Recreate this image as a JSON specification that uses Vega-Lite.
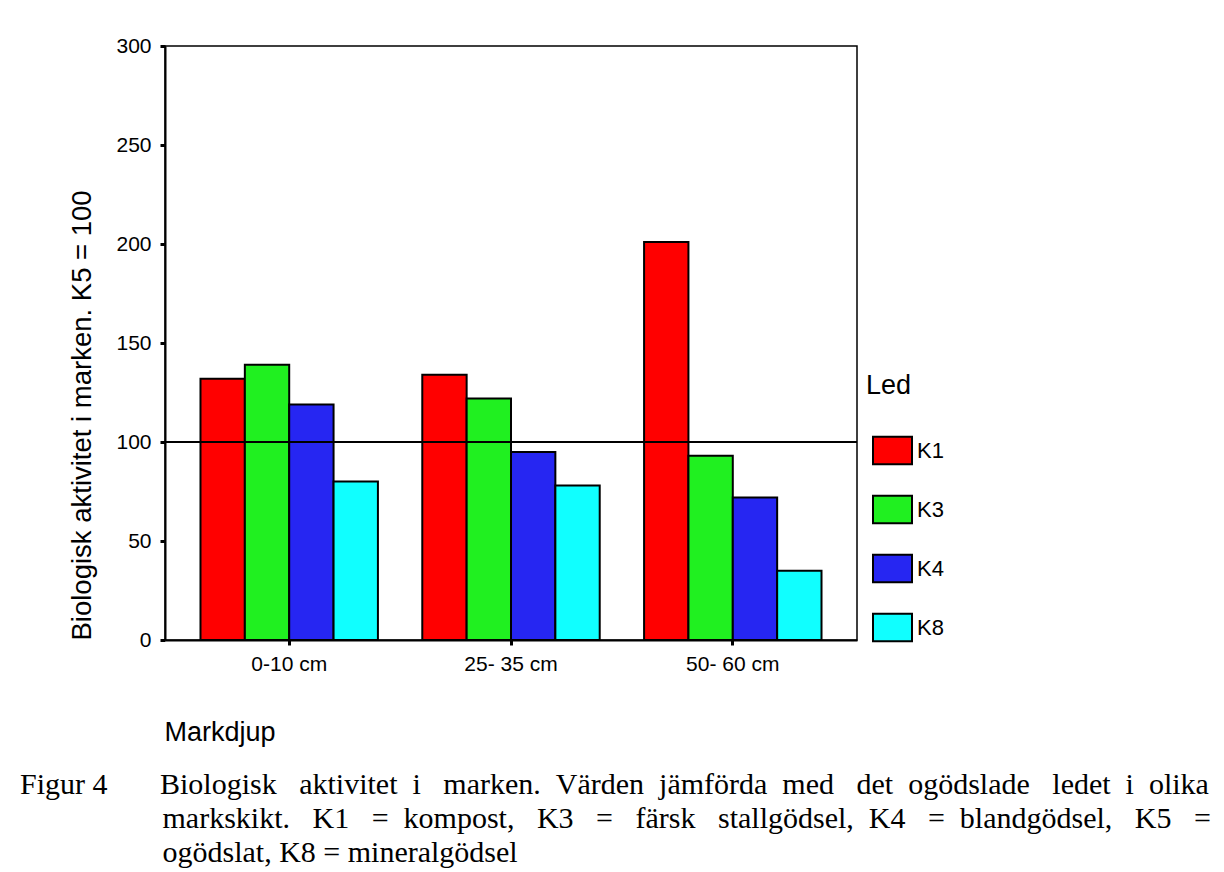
{
  "$schema": "https://vega.github.io/schema/vega-lite/v6.json",
  "width": 692,
  "height": 594,
  "autosize": {"type": "none"},
  "padding": {"left": 165, "top": 46, "right": 367, "bottom": 232},
  "background": "white",
  "config": {
    "view": {"stroke": "black", "strokeWidth": 1.5},
    "font": "Liberation Sans"
  },
  "title": {
    "text": [
      "Figur 4\u00a0\u00a0\u00a0\u00a0\u00a0\u00a0\u00a0Biologisk \u00a0\u00a0aktivitet \u00a0i \u00a0\u00a0marken. \u00a0Värden \u00a0jämförda \u00a0med \u00a0\u00a0det \u00a0ogödslade \u00a0\u00a0ledet \u00a0i \u00a0olika",
      "\u200b\u00a0\u00a0\u00a0\u00a0\u00a0\u00a0\u00a0\u00a0\u00a0\u00a0\u00a0\u00a0\u00a0\u00a0\u00a0\u00a0\u00a0\u00a0\u00a0markskikt. \u00a0\u00a0K1 \u00a0\u00a0= \u00a0kompost, \u00a0\u00a0K3 \u00a0\u00a0= \u00a0\u00a0färsk \u00a0\u00a0stallgödsel, \u00a0K4 \u00a0\u00a0= \u00a0blandgödsel, \u00a0\u00a0K5 \u00a0\u00a0=",
      "\u200b\u00a0\u00a0\u00a0\u00a0\u00a0\u00a0\u00a0\u00a0\u00a0\u00a0\u00a0\u00a0\u00a0\u00a0\u00a0\u00a0\u00a0\u00a0\u00a0ogödslat, K8 = mineralgödsel"
    ],
    "orient": "bottom",
    "anchor": "start",
    "frame": "group",
    "offset": 25,
    "dx": -145,
    "font": "Liberation Serif",
    "fontSize": 30,
    "fontWeight": "normal",
    "lineHeight": 34,
    "color": "black"
  },
  "data": {
    "values": [
      {"depth": "0-10 cm", "led": "K1", "value": 132},
      {"depth": "0-10 cm", "led": "K3", "value": 139},
      {"depth": "0-10 cm", "led": "K4", "value": 119},
      {"depth": "0-10 cm", "led": "K8", "value": 80},
      {"depth": "25- 35 cm", "led": "K1", "value": 134},
      {"depth": "25- 35 cm", "led": "K3", "value": 122},
      {"depth": "25- 35 cm", "led": "K4", "value": 95},
      {"depth": "25- 35 cm", "led": "K8", "value": 78},
      {"depth": "50- 60 cm", "led": "K1", "value": 201},
      {"depth": "50- 60 cm", "led": "K3", "value": 93},
      {"depth": "50- 60 cm", "led": "K4", "value": 72},
      {"depth": "50- 60 cm", "led": "K8", "value": 35}
    ]
  },
  "layer": [
    {
      "mark": {"type": "bar", "stroke": "black", "strokeWidth": 2},
      "encoding": {
        "x": {
          "field": "depth",
          "type": "nominal",
          "sort": null,
          "scale": {"paddingInner": 0.2, "paddingOuter": 0.16},
          "axis": {
            "title": "Markdjup",
            "labelFontSize": 21,
            "labelColor": "black",
            "labelAngle": 0,
            "tickSize": 5,
            "tickWidth": 3,
            "tickColor": "black",
            "domainColor": "black",
            "domainWidth": 2,
            "labelPadding": 8,
            "titleFontSize": 27,
            "titleFontWeight": "normal",
            "titleColor": "black",
            "titleAnchor": "start",
            "titleAlign": "left",
            "titleBaseline": "alphabetic",
            "titleX": -1,
            "titleY": 100
          }
        },
        "xOffset": {
          "field": "led",
          "type": "nominal",
          "scale": {"paddingInner": 0, "paddingOuter": 0}
        },
        "y": {
          "field": "value",
          "type": "quantitative",
          "scale": {"domain": [0, 300], "nice": false},
          "axis": {
            "title": "Biologisk aktivitet i marken. K5 = 100",
            "values": [0, 50, 100, 150, 200, 250, 300],
            "grid": false,
            "labelFontSize": 21,
            "labelColor": "black",
            "tickSize": 5,
            "tickWidth": 3,
            "tickColor": "black",
            "labelPadding": 9,
            "domainWidth": 2,
            "domainColor": "black",
            "titleFontSize": 27.5,
            "titleFontWeight": "normal",
            "titleColor": "black",
            "titleAngle": 270,
            "titleAlign": "left",
            "titleBaseline": "alphabetic",
            "titleX": -75,
            "titleY": 594
          }
        },
        "fill": {
          "field": "led",
          "type": "nominal",
          "scale": {
            "domain": ["K1", "K3", "K4", "K8"],
            "range": ["#ff0000", "#20f020", "#2626f2", "#10ffff"]
          },
          "legend": {
            "title": "Led",
            "orient": "none",
            "legendX": 701,
            "legendY": 327,
            "padding": 0,
            "titleFontSize": 27,
            "titleFontWeight": "normal",
            "titleColor": "black",
            "titlePadding": 30,
            "labelFontSize": 22,
            "labelColor": "black",
            "labelOffset": 4,
            "symbolType": "M-1,-0.7L1,-0.7L1,0.7L-1,0.7Z",
            "symbolSize": 1521,
            "symbolStrokeColor": "black",
            "symbolStrokeWidth": 2,
            "symbolOpacity": 1,
            "symbolOffset": 6,
            "rowPadding": 20
          }
        }
      }
    },
    {
      "mark": {"type": "rule", "color": "black", "strokeWidth": 1.5},
      "encoding": {"y": {"datum": 100}}
    }
  ]
}
